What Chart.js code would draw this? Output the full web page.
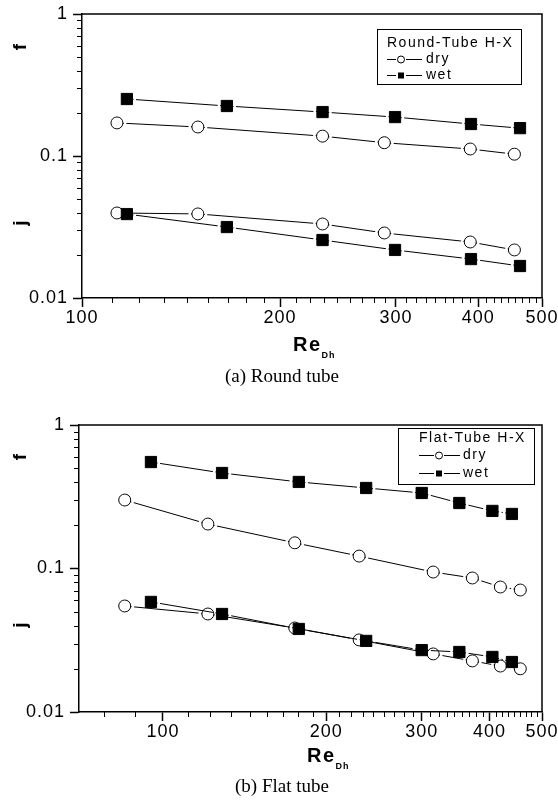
<!DOCTYPE html>
<html>
<head>
<meta charset="utf-8">
<script src="https://cdn.jsdelivr.net/npm/chart.js@4.4.0/dist/chart.umd.min.js"></script>
<style>
  body { margin: 0; background: #fff; width: 558px; height: 800px; position: relative; overflow: hidden; font-family: "Liberation Sans", Arial, sans-serif; }
  canvas { position: absolute; left: 0; }
  .eje { position: absolute; width: 40px; height: 20px; line-height: 20px; text-align: center; font-weight: bold; font-size: 19px; transform: rotate(-90deg); }
  .re { position: absolute; font-weight: bold; font-size: 20px; line-height: 20px; letter-spacing: 1.5px; white-space: nowrap; }
  .re span { font-size: 9px; letter-spacing: 1px; vertical-align: -7px; }
  .cap { position: absolute; left: 0; width: 564px; text-align: center; font-family: "Liberation Serif", "Times New Roman", serif; font-size: 19px; line-height: 19px; }
</style>
</head>
<body>
<canvas id="roundChart" width="558" height="390" style="top:0"></canvas>
<canvas id="flatChart" width="558" height="410" style="top:390px"></canvas>

<div class="eje" style="left:0px;top:37px">f</div>
<div class="eje" style="left:0px;top:213px">j</div>
<div class="re" style="left:293px;top:334px">Re<span>Dh</span></div>
<div class="cap" style="top:366px">(a) Round tube</div>

<div class="eje" style="left:0px;top:447px">f</div>
<div class="eje" style="left:0px;top:615px">j</div>
<div class="re" style="left:307px;top:745px">Re<span>Dh</span></div>
<div class="cap" style="top:776px">(b) Flat tube</div>

<script>
// ticks
var xTicks = [100, 200, 300, 400, 500];
var yTicks = [0.01, 0.1, 1];

// (a) round tube
var roundReDry = [113, 150, 232, 288, 389, 454];
var roundReWet = [117, 166, 232, 299, 390, 463];
var roundFDry = [0.171, 0.160, 0.138, 0.124, 0.112, 0.103];
var roundFWet = [0.252, 0.225, 0.204, 0.188, 0.168, 0.157];
var roundJDry = [0.0397, 0.0391, 0.0332, 0.0287, 0.0248, 0.0218];
var roundJWet = [0.0390, 0.0316, 0.0256, 0.0218, 0.0188, 0.0168];

// (b) flat tube
var flatReDry = [85, 121, 175, 230, 315, 372, 419, 456];
var flatReWet = [95, 128.5, 178, 237, 300, 352, 405, 440];
var flatFDry = [0.300, 0.204, 0.151, 0.122, 0.0945, 0.0859, 0.0743, 0.0708];
var flatFWet = [0.552, 0.463, 0.401, 0.364, 0.336, 0.286, 0.252, 0.240];
var flatJDry = [0.0548, 0.0482, 0.0385, 0.0318, 0.0254, 0.0227, 0.0209, 0.0200];
var flatJWet = [0.0585, 0.0482, 0.0379, 0.0313, 0.0270, 0.0262, 0.0242, 0.0223];

function puntos(xs, ys) {
  return xs.map(function(x, i) { return { x: x, y: ys[i] }; });
}

function serie(data, seco) {
  return {
    data: data,
    showLine: true,
    borderColor: '#000',
    borderWidth: 1,
    pointStyle: seco ? 'circle' : 'rect',
    pointRadius: seco ? 6 : 8,
    pointHoverRadius: seco ? 6 : 8,
    pointBackgroundColor: seco ? '#fff' : '#000',
    pointBorderColor: '#000',
    pointBorderWidth: 1
  };
}

// forma del marcador (circulo o cuadrado) para el recorte
function forma(ctx, x, y, circ, r) {
  if (circ) {
    ctx.moveTo(x + r, y);
    ctx.arc(x, y, r, 0, Math.PI * 2);
  } else {
    ctx.rect(x - r, y - r, 2 * r, 2 * r);
  }
}

// marco superior/derecho, ticks menores, huecos en las lineas y leyenda
var marco = {
  id: 'marco',
  beforeDraw: function(chart) {
    chart.ctx.letterSpacing = '1px';
  },
  beforeDatasetDraw: function(chart, args) {
    var ctx = chart.ctx;
    var ds = chart.data.datasets[args.index];
    var circ = ds.pointStyle === 'circle';
    var r = circ ? ds.pointRadius : ds.pointRadius * Math.SQRT1_2;
    ctx.save();
    ctx.beginPath();
    ctx.rect(0, 0, chart.width, chart.height);
    args.meta.data.forEach(function(p) {
      forma(ctx, p.x, p.y, circ, r + 3.5);
      forma(ctx, p.x, p.y, circ, r + 1);
    });
    ctx.clip('evenodd');
  },
  afterDatasetDraw: function(chart) {
    chart.ctx.restore();
  },
  afterDraw: function(chart, args, opt) {
    var ctx = chart.ctx, a = chart.chartArea;
    var sx = chart.scales.x, sy = chart.scales.y;
    ctx.save();
    ctx.strokeStyle = '#000';
    ctx.lineWidth = 1.5;
    ctx.beginPath();
    ctx.moveTo(a.left, a.top);
    ctx.lineTo(a.right, a.top);
    ctx.lineTo(a.right, a.bottom);
    ctx.stroke();

    // ticks menores
    ctx.lineWidth = 1;
    ctx.beginPath();
    var k, px;
    for (var b = 100; b < 500; b += 100) {
      for (k = 1; k <= 8; k++) {
        px = Math.round(sx.getPixelForValue(b + k * 100 / 9)) + 0.5;
        ctx.moveTo(px, a.bottom); ctx.lineTo(px, a.bottom + 5);
      }
    }
    for (k = 1; 100 - k * 100 / 9 > sx.min; k++) {
      px = Math.round(sx.getPixelForValue(100 - k * 100 / 9)) + 0.5;
      ctx.moveTo(px, a.bottom); ctx.lineTo(px, a.bottom + 5);
    }
    [0.01, 0.1].forEach(function(d) {
      for (var m = 2; m <= 9; m++) {
        var py = Math.round(sy.getPixelForValue(m * d)) + 0.5;
        ctx.moveTo(a.left - 5, py); ctx.lineTo(a.left, py);
      }
    });
    ctx.stroke();

    // leyenda
    var lg = opt.leyenda;
    ctx.lineWidth = 1;
    ctx.strokeRect(lg.box[0] + 0.5, lg.box[1] + 0.5, lg.box[2], lg.box[3]);
    ctx.fillStyle = '#000';
    ctx.font = '14px "Liberation Sans", Arial, sans-serif';
    ctx.letterSpacing = '1.5px';
    ctx.textBaseline = 'middle';
    ctx.textAlign = 'left';
    ctx.fillText(lg.title, lg.textX, lg.rows[0]);
    ['dry', 'wet'].forEach(function(name, i) {
      var y = lg.rows[i + 1] + 0.5;
      ctx.beginPath();
      ctx.moveTo(lg.line[0], y); ctx.lineTo(lg.markX - 5, y);
      ctx.moveTo(lg.markX + 5, y); ctx.lineTo(lg.line[1], y);
      ctx.stroke();
      if (i === 0) {
        ctx.beginPath();
        ctx.fillStyle = '#fff';
        ctx.arc(lg.markX, y, 3.5, 0, Math.PI * 2);
        ctx.fill(); ctx.stroke();
      } else {
        ctx.fillStyle = '#000';
        ctx.fillRect(lg.markX - 3, y - 3, 6, 6);
      }
      ctx.fillStyle = '#000';
      ctx.fillText(name, lg.labelX, lg.rows[i + 1]);
    });
    ctx.restore();
  }
};

function grafico(id, reDry, reWet, fDry, fWet, jDry, jWet, xMin, ancho, pad, leyenda) {
  var fuente = { family: '"Liberation Sans", Arial, sans-serif', size: 18 };
  return new Chart(document.getElementById(id), {
    type: 'scatter',
    data: {
      datasets: [
        serie(puntos(reWet, fWet), false),
        serie(puntos(reWet, jWet), false),
        serie(puntos(reDry, fDry), true),
        serie(puntos(reDry, jDry), true)
      ]
    },
    options: {
      responsive: false,
      animation: false,
      layout: { padding: pad },
      plugins: { legend: { display: false }, tooltip: { enabled: false }, marco: { leyenda: leyenda } },
      scales: {
        x: {
          type: 'logarithmic', min: xMin, max: 500,
          border: { color: '#000', width: 1.5 },
          grid: { drawOnChartArea: false, drawTicks: true, tickLength: 9, tickColor: '#000', tickWidth: 1.5 },
          ticks: { color: '#000', font: fuente, padding: 0, autoSkip: false, maxRotation: 0,
                   callback: function(v) { return String(v); } },
          afterBuildTicks: function(s) { s.ticks = xTicks.map(function(v) { return { value: v }; }); },
          afterFit: function(s) { s.height = 30; s.paddingLeft = 0; s.paddingRight = 0; }
        },
        y: {
          type: 'logarithmic', min: 0.01, max: 1,
          border: { color: '#000', width: 1.5 },
          grid: { drawOnChartArea: false, drawTicks: true, tickLength: 9, tickColor: '#000', tickWidth: 1.5 },
          ticks: { color: '#000', font: fuente, padding: 5, autoSkip: false,
                   callback: function(v) { return String(v); } },
          afterBuildTicks: function(s) { s.ticks = yTicks.map(function(v) { return { value: v }; }); },
          afterFit: function(s) { s.width = ancho; s.paddingTop = 0; s.paddingBottom = 0; }
        }
      }
    },
    plugins: [marco]
  });
}

grafico('roundChart', roundReDry, roundReWet, roundFDry, roundFWet, roundJDry, roundJWet,
  100, 82, { top: 14, left: 0, right: 16, bottom: 62 },
  { title: 'Round-Tube H-X', box: [377, 29, 144, 55], textX: 387, rows: [43, 59, 75],
    line: [387, 422], markX: 401, labelX: 426 });

grafico('flatChart', flatReDry, flatReWet, flatFDry, flatFWet, flatJDry, flatJWet,
  70, 79, { top: 35, left: 0, right: 16, bottom: 58 },
  { title: 'Flat-Tube H-X', box: [398, 38, 136, 56], textX: 419, rows: [48, 65, 83],
    line: [419, 460], markX: 439, labelX: 463 });
</script>
</body>
</html>
